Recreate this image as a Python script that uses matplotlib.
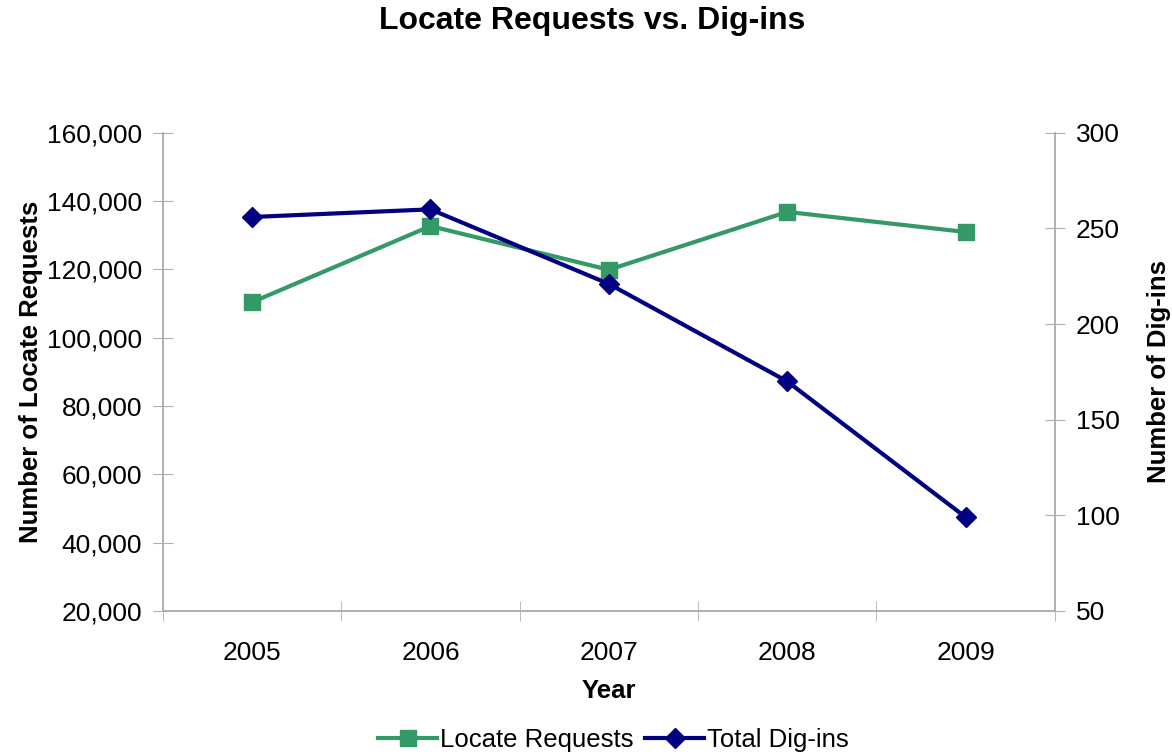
import numpy as np
import matplotlib.pyplot as plt
from matplotlib.ticker import FuncFormatter, FixedLocator

plt.rcParams['font.family'] = ['Liberation Sans', 'DejaVu Sans']

years = ['2005', '2006', '2007', '2008', '2009']
locate_requests = [110400, 132700, 119900, 136850, 130970]
dig_ins = [256, 260, 221, 170, 99]

green = '#339966'
navy = '#000080'
axis_gray = '#b0b0b0'

fig = plt.figure(figsize=(11.72, 7.55), dpi=100)
ax = fig.add_axes([0.139, 0.191, 0.761, 0.633])
ax2 = ax.twinx()

x = np.arange(len(years))
l1, = ax.plot(x, locate_requests, color=green, lw=3, marker='s', ms=11,
              label='Locate Requests', zorder=3)
l2, = ax2.plot(x, dig_ins, color=navy, lw=3, marker='D', ms=10,
               label='Total Dig-ins', zorder=3)

ax.set_xlim(-0.5, len(years) - 0.5)
ax.set_ylim(20000, 160000)
ax.set_yticks(np.arange(20000, 160001, 20000))
ax.yaxis.set_major_formatter(FuncFormatter(lambda v, p: f'{int(v):,}'))
ax2.set_ylim(50, 300)
ax2.set_yticks(np.arange(50, 301, 50))

ax.set_xticks(x)
ax.set_xticklabels(years)
ax.xaxis.set_minor_locator(FixedLocator(np.arange(-0.5, len(years), 1.0)))
ax.tick_params(axis='x', which='major', length=0, labelsize=19, pad=22)
ax.tick_params(axis='x', which='minor', length=14, direction='inout', color=axis_gray)
ax.tick_params(axis='y', length=14, direction='inout', color=axis_gray, labelsize=19, pad=8)
ax2.tick_params(axis='y', length=14, direction='inout', color=axis_gray, labelsize=19, pad=8)

for a in (ax, ax2):
    a.spines['top'].set_visible(False)
    for s in ('left', 'right', 'bottom'):
        a.spines[s].set_color(axis_gray)
        a.spines[s].set_linewidth(1.2)

ax.set_xlabel('Year', fontsize=18.5, fontweight='bold', labelpad=10)
ax.set_ylabel('Number of Locate Requests', fontsize=18.5, fontweight='bold', labelpad=3)
ax2.set_ylabel('Number of Dig-ins', fontsize=18.5, fontweight='bold', labelpad=20)

fig.suptitle('Locate Requests vs. Dig-ins', fontsize=23, fontweight='bold',
             x=0.505, y=0.972, va='center')

fig.legend(handles=[l1, l2], loc='center', bbox_to_anchor=(0.5235, 0.02), ncol=2,
           frameon=False, fontsize=18.5, handlelength=2.3, handletextpad=0.12,
           columnspacing=0.45, borderaxespad=0)

fig.savefig('out.png', dpi=100)
